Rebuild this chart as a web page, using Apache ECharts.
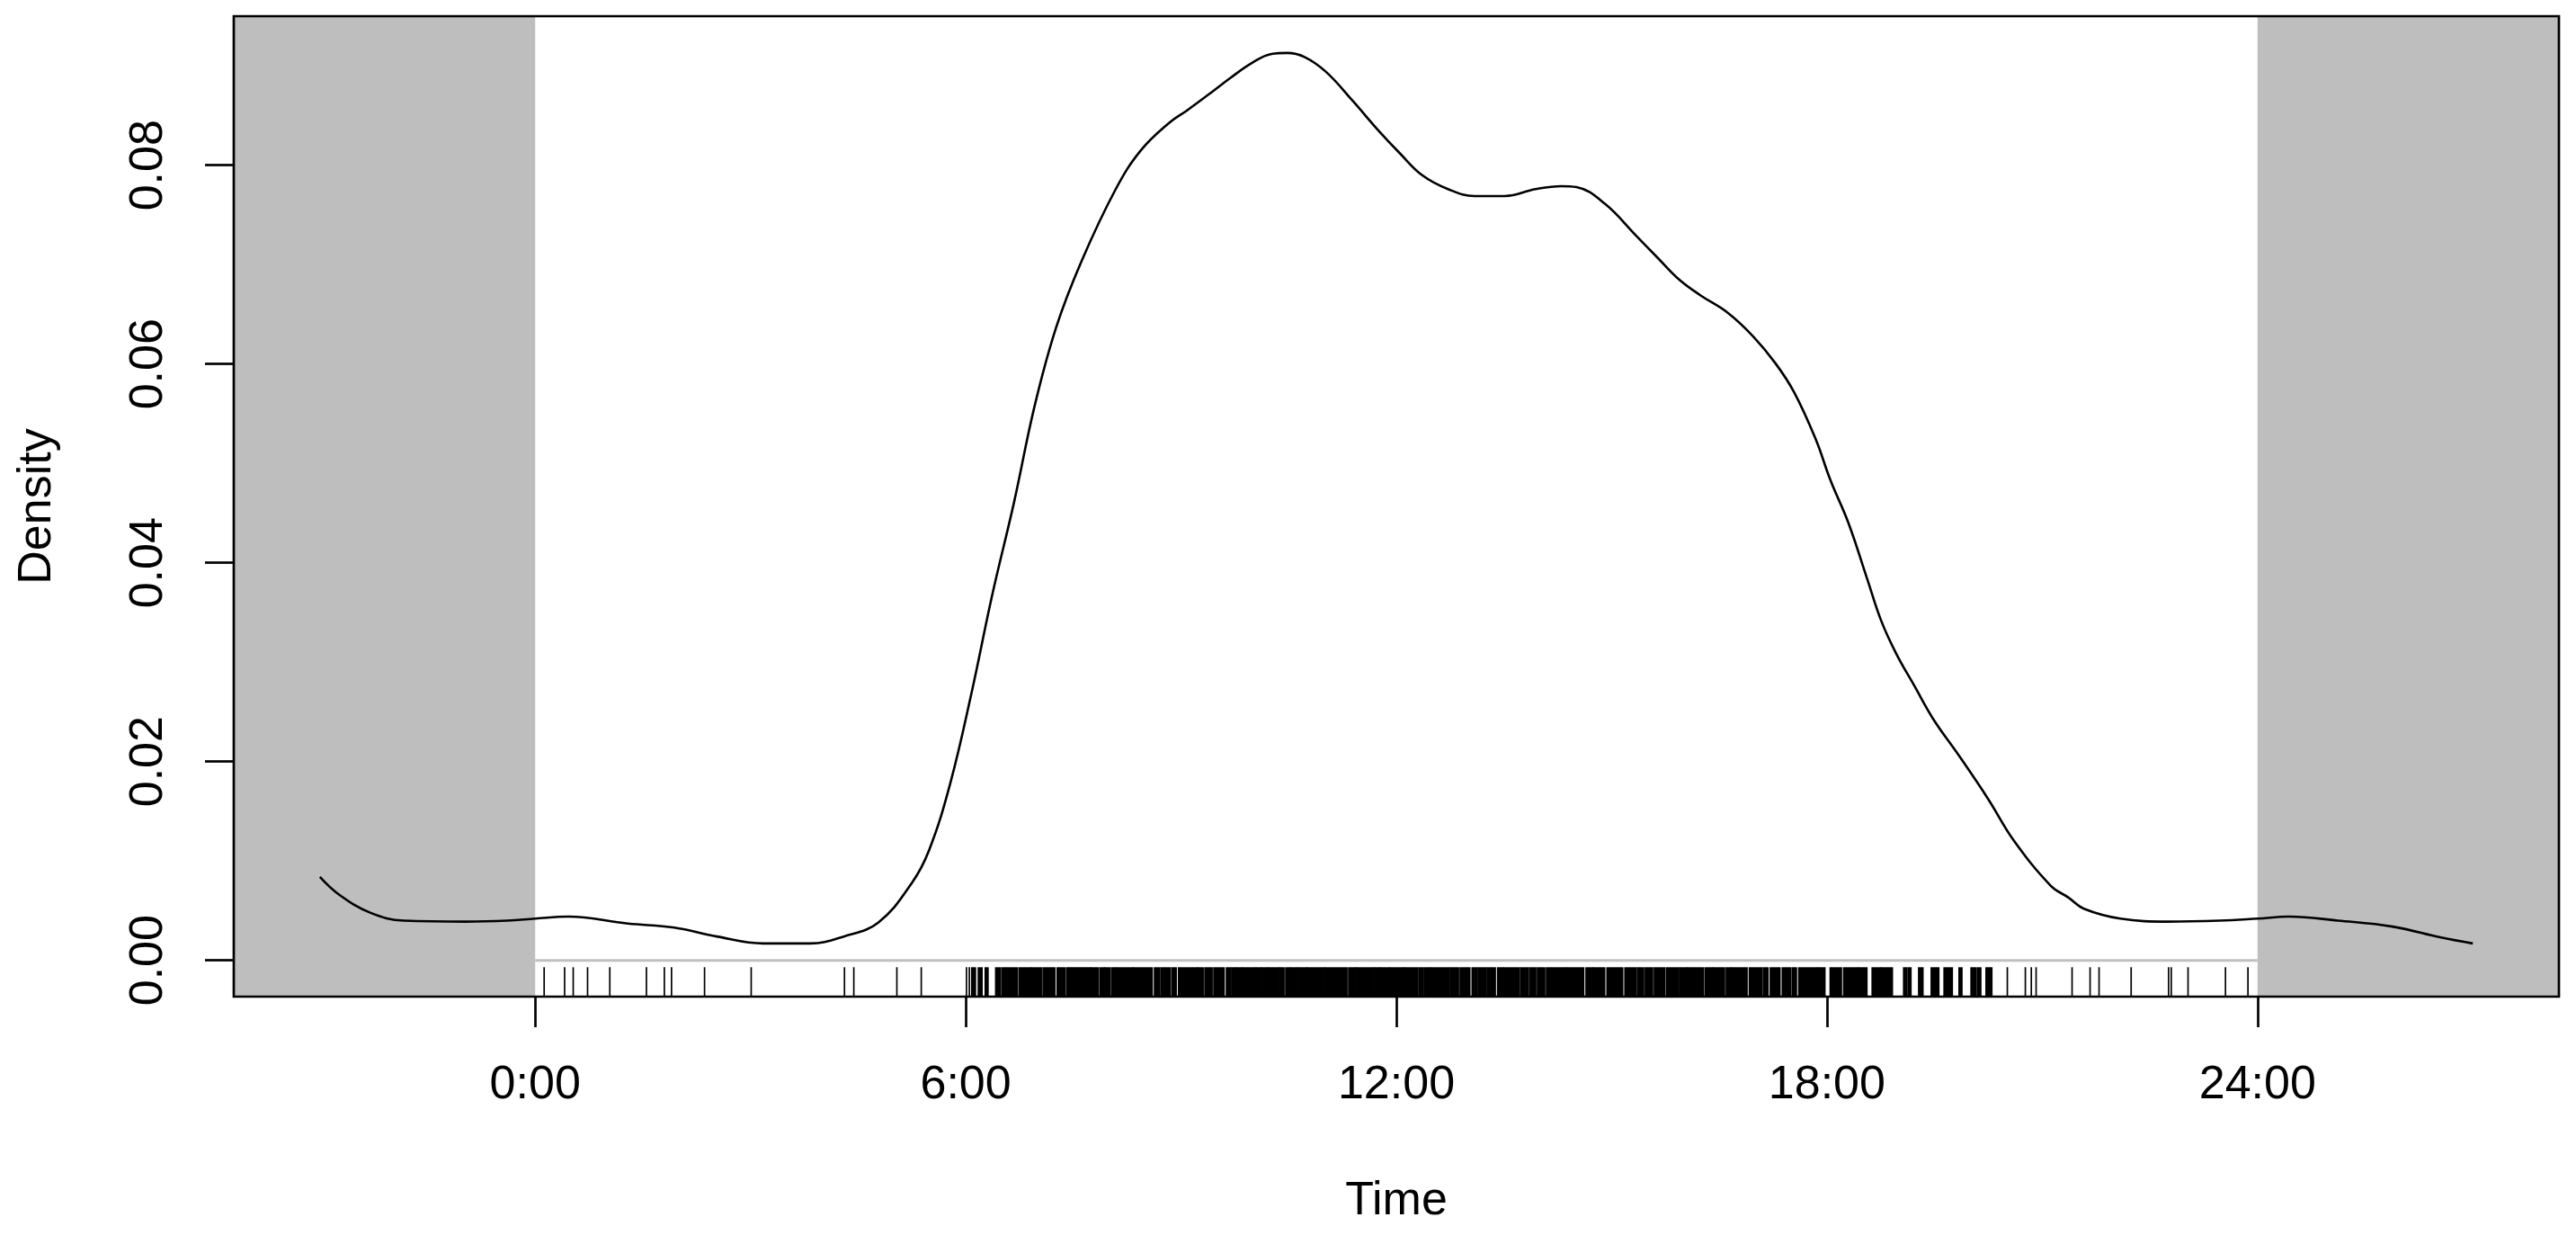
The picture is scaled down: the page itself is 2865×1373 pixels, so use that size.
<!DOCTYPE html>
<html>
<head>
<meta charset="utf-8">
<script src="https://cdn.jsdelivr.net/npm/echarts@6/dist/echarts.min.js"></script>
<style>
html,body{margin:0;padding:0;background:#fff;}
#chart{width:2865px;height:1373px;}
</style>
</head>
<body>
<div id="chart"></div>
<script>
// ---------- DATA ----------
// Axis limits (hours / density)
const xMin = -4.2, xMax = 28.2;
const yMin = -0.00365, yMax = 0.0950;

const xTickValues = [0, 6, 12, 18, 24];
const xTickLabels = ["0:00", "6:00", "12:00", "18:00", "24:00"];
const yTickValues = [0, 0.02, 0.04, 0.06, 0.08];
const yTickLabels = ["0.00", "0.02", "0.04", "0.06", "0.08"];

// Shaded (wrapped) parts outside 0..24 h
const nightSpans = [[xMin, 0], [24, xMax]];
// Baseline segment at density 0
const baseLine = [[0, 0], [24, 0]];

// Kernel density curve (hour, density)
const densityHours = [-3.0, -2.73, -2.30, -1.83, -0.97, -0.39, 0.0, 0.46, 1.29, 1.94, 2.53, 3.18, 3.83, 4.30, 4.78,
  5.25, 5.49, 5.78, 6.08, 6.37, 6.67, 6.96, 7.26, 7.61, 8.09, 8.44, 8.84, 9.08, 9.38, 9.69, 9.99, 10.26, 10.48,
  10.72, 11.02, 11.39, 11.75, 12.05, 12.36, 12.72, 13.09, 13.51, 13.94, 14.30, 14.51, 14.91, 15.33, 15.64, 15.94,
  16.24, 16.61, 16.97, 17.28, 17.54, 17.84, 18.05, 18.30, 18.56, 18.76, 18.97, 19.22, 19.48, 19.84, 20.25, 20.60,
  21.12, 21.37, 21.58, 22.09, 22.75, 23.47, 24.0, 24.44, 25.12, 25.88, 26.56, 27.0];
const densityValues = [0.0084, 0.0066, 0.0048, 0.0040, 0.0039, 0.0040, 0.0042, 0.0044, 0.0037, 0.0033, 0.0024, 0.0017, 0.0017, 0.0024, 0.0038,
  0.0078, 0.0111, 0.0177, 0.0269, 0.0368, 0.0460, 0.0558, 0.0637, 0.0703, 0.0776, 0.0815, 0.0843, 0.0855, 0.0871, 0.0888, 0.0903, 0.0912, 0.0913,
  0.0909, 0.0894, 0.0865, 0.0835, 0.0812, 0.0790, 0.0776, 0.0769, 0.0769, 0.0776, 0.0779, 0.0778, 0.0761, 0.0730, 0.0707, 0.0685,
  0.0669, 0.0652, 0.0628, 0.0601, 0.0572, 0.0525, 0.0483, 0.0440, 0.0384, 0.0341, 0.0308, 0.0276, 0.0243, 0.0206, 0.0162, 0.0121,
  0.0075, 0.0063, 0.0052, 0.0042, 0.0039, 0.0040, 0.0042, 0.0044, 0.0040, 0.0034, 0.0023, 0.0017];

// Rug: isolated observation times (hours)
const rugTimes = [0.125, 0.41, 0.53, 0.73, 1.04, 1.55, 1.80, 1.90, 2.36, 3.01, 4.31, 4.44, 5.04, 5.38, 6.01, 6.05,
  20.514, 20.765, 20.848, 20.915, 21.416, 21.667, 21.792, 22.239, 22.761, 22.798, 23.032, 23.554, 23.867];
// Rug: dense runs of observations (start hour, end hour)
const rugRuns = [[6.088,6.130],[6.180,6.222],[6.276,6.305],[6.422,6.472],[6.506,6.714],[6.748,6.902],[6.923,7.057],
  [7.090,7.236],[7.278,7.382],[7.416,7.737],[7.758,7.842],[7.875,7.925],[7.946,8.009],[8.042,8.092],[8.113,8.322],
  [8.343,8.593],[8.635,8.698],[8.727,8.844],[8.877,8.927],[8.969,9.220],[9.240,9.303],[9.337,9.428],[9.462,9.595],
  [9.637,9.687],[9.712,9.762],[9.783,9.846],[9.867,10.034],[10.055,10.117],[10.138,10.201],[10.222,10.368],
  [10.389,10.430],[10.464,10.514],[10.535,10.618],[10.639,10.744],[10.764,10.994],[11.015,11.307],[11.341,11.433],
  [11.453,11.683],[11.704,11.767],[11.787,11.892],[11.913,12.100],[12.121,12.289],[12.318,12.372],[12.401,12.456],
  [12.477,12.735],[12.760,12.861],[12.894,13.019],[13.061,13.124],[13.153,13.249],[13.278,13.374],[13.416,13.479],
  [13.499,13.708],[13.737,13.834],[13.863,13.938],[13.971,14.063],[14.097,14.355],[14.376,14.606],[14.648,14.731],
  [14.752,14.898],[14.940,15.149],[15.190,15.337],[15.366,15.441],[15.474,15.566],[15.600,15.733],[15.767,15.921],
  [15.950,16.047],[16.067,16.276],[16.310,16.401],[16.422,16.568],[16.602,16.652],[16.673,16.882],[16.923,17.090],
  [17.120,17.174],[17.216,17.341],[17.383,17.487],[17.520,17.570],[17.612,17.863],[17.883,17.967],[18.050,18.197],
  [18.238,18.427],[18.448,18.552],[18.635,18.740],[18.761,18.907],[19.074,19.107],[19.136,19.166],[19.283,19.333],
  [19.458,19.554],[19.637,19.742],[19.846,19.876],[20.013,20.076],[20.109,20.139],[20.222,20.293]];

// ---------- CHART ----------
const FONT = '"Liberation Sans", Arial, sans-serif';
const chart = echarts.init(document.getElementById('chart'), null, {renderer: 'canvas'});

const curveData = densityHours.map((h, i) => [h, densityValues[i]]);
const rugData = rugTimes.map(t => [t, t]).concat(rugRuns.map(r => [r[0], r[1]]));

const option = {
  animation: false,
  backgroundColor: '#ffffff',
  grid: {left: 260, top: 18, right: 19, bottom: 265, containLabel: false, show: false},
  xAxis: {
    type: 'value', min: xMin, max: xMax, position: 'bottom',
    axisLine: {show: false, onZero: false}, splitLine: {show: false},
    axisTick: {show: true, customValues: xTickValues, length: 34, lineStyle: {color: '#000', width: 2.7}},
    axisLabel: {
      customValues: xTickValues,
      formatter: v => xTickLabels[xTickValues.indexOf(v)],
      margin: 73, fontSize: 52, color: '#000', fontFamily: FONT
    },
    name: 'Time', nameLocation: 'middle', nameGap: 202,
    nameTextStyle: {fontSize: 52, color: '#000', fontFamily: FONT}
  },
  yAxis: {
    type: 'value', min: yMin, max: yMax, position: 'left',
    axisLine: {show: false, onZero: false}, splitLine: {show: false},
    axisTick: {show: true, customValues: yTickValues, length: 32, lineStyle: {color: '#000', width: 2.7}},
    axisLabel: {
      customValues: yTickValues,
      formatter: v => {
        let best = 0;
        yTickValues.forEach((t, i) => { if (Math.abs(t - v) < Math.abs(yTickValues[best] - v)) best = i; });
        return yTickLabels[best];
      },
      rotate: 90, margin: 68, fontSize: 52, color: '#000', fontFamily: FONT
    },
    name: 'Density', nameLocation: 'middle', nameGap: 192, nameRotate: 90,
    nameTextStyle: {fontSize: 52, color: '#000', fontFamily: FONT}
  },
  series: [
    {
      type: 'custom', name: 'night', z: 1, silent: true,
      data: nightSpans,
      encode: {x: [0, 1]},
      renderItem: function (params, api) {
        const cs = params.coordSys;
        const x0 = api.coord([api.value(0), 0])[0];
        const x1 = api.coord([api.value(1), 0])[0];
        return {type: 'rect', shape: {x: x0, y: cs.y, width: x1 - x0, height: cs.height},
          style: {fill: '#BEBEBE'}};
      }
    },
    {
      type: 'line', name: 'base', z: 2, silent: true, data: baseLine,
      symbol: 'none', lineStyle: {color: '#C0C0C0', width: 3}
    },
    {
      type: 'custom', name: 'rug', z: 3, silent: true,
      data: rugData,
      encode: {x: [0, 1]},
      renderItem: function (params, api) {
        const cs = params.coordSys;
        const bottom = cs.y + cs.height;
        const x0 = api.coord([api.value(0), 0])[0];
        const x1 = api.coord([api.value(1), 0])[0];
        const len = cs.height * 0.03;
        const pad = (x1 - x0) > 0 ? 1.2 : 0.85;
        return {type: 'rect', shape: {x: x0 - pad, y: bottom - len, width: (x1 - x0) + 2 * pad, height: len},
          style: {fill: '#000'}};
      }
    },
    {
      type: 'line', name: 'density', z: 5, silent: true, data: curveData,
      symbol: 'none', smooth: 0.4,
      lineStyle: {color: '#000', width: 2.6}
    },
    {
      type: 'custom', name: 'frame', z: 20, silent: true,
      data: [[xMin, yMin]],
      renderItem: function (params, api) {
        const cs = params.coordSys;
        return {type: 'rect', shape: {x: cs.x, y: cs.y, width: cs.width, height: cs.height},
          style: {fill: 'none', stroke: '#000', lineWidth: 2.7}};
      }
    }
  ]
};
chart.setOption(option);
</script>
</body>
</html>
